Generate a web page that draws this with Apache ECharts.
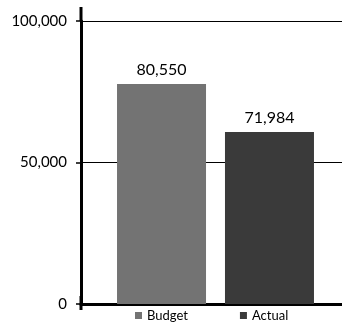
<!DOCTYPE html>
<html>
<head>
<meta charset="utf-8">
<script src="https://cdn.jsdelivr.net/npm/echarts@6/dist/echarts.min.js"></script>
<style>
html,body{margin:0;padding:0;background:#fff;}
#c{width:342px;height:322px;}
</style>
</head>
<body>
<div id="c"></div>
<script>
var seriesNames = ['Budget', 'Actual'];
var budgetValues = [77700];
var actualValues = [60800];
var barLabelTexts = ['80,550', '71,984'];
var yTicks = [0, 50000, 100000];
var colors = ['#737373', '#3a3a3a'];

var FONT = 'Lato';
var chart = echarts.init(document.getElementById('c'), null, {renderer: 'canvas'});

function fmt(v) { return v.toLocaleString('en-US'); }

var option = {
  animation: false,
  backgroundColor: '#fff',
  textStyle: {fontFamily: FONT},
  grid: {left: 81, right: -8, top: 21, bottom: 18, containLabel: false, outerBoundsMode: 'none'},
  legend: {
    data: seriesNames,
    left: 135,
    top: 309,
    padding: 0,
    icon: 'rect',
    itemWidth: 7,
    itemHeight: 7,
    itemGap: 52,
    textStyle: {fontFamily: FONT, fontSize: 13, color: '#000'}
  },
  xAxis: {
    type: 'category',
    data: [''],
    axisLine: {show: true, lineStyle: {color: '#000', width: 3}},
    axisTick: {show: false},
    axisLabel: {show: false}
  },
  yAxis: {
    type: 'value',
    min: yTicks[0],
    max: yTicks[yTicks.length - 1],
    interval: yTicks[1] - yTicks[0],
    axisLine: {
      show: true,
      lineStyle: {color: '#000', width: 3},
      symbol: ['rect', 'rect'],
      symbolSize: [3, 14],
      symbolOffset: [1, 7]
    },
    axisTick: {show: true, inside: false, length: 5, lineStyle: {color: '#000', width: 1.5}},
    axisLabel: {
      margin: 14,
      fontFamily: FONT,
      fontSize: 15,
      color: '#000',
      formatter: function (v) { return fmt(v); }
    },
    splitLine: {show: true, lineStyle: {color: '#000', width: 1}}
  },
  series: [
    {
      name: seriesNames[0],
      type: 'bar',
      data: budgetValues,
      barWidth: 89,
      barGap: '21.3%',
      itemStyle: {color: colors[0]},
      label: {
        show: true, position: 'top', distance: 6,
        fontFamily: FONT, fontSize: 16, color: '#000',
        formatter: function () { return barLabelTexts[0]; }
      }
    },
    {
      name: seriesNames[1],
      type: 'bar',
      data: actualValues,
      barWidth: 89,
      barGap: '21.3%',
      itemStyle: {color: colors[1]},
      label: {
        show: true, position: 'top', distance: 6,
        fontFamily: FONT, fontSize: 16, color: '#000',
        formatter: function () { return barLabelTexts[1]; }
      }
    }
  ]
};
chart.setOption(option);
</script>
</body>
</html>
